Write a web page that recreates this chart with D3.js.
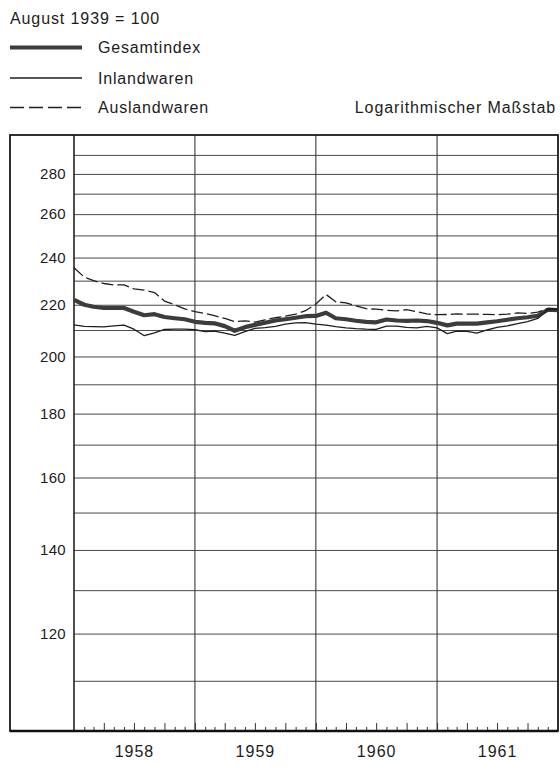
<!DOCTYPE html>
<html><head><meta charset="utf-8">
<script src="https://cdn.jsdelivr.net/npm/d3@7"></script>
<style>
body{margin:0;background:#fff}
text{font-family:"Liberation Sans",Arial,Helvetica,sans-serif;fill:#1c1c1c}
</style>
</head><body><svg id="c" width="560" height="767"></svg>
<script>
// ---- data (monthly, Jan 1958 .. Jan 1962), index August 1939 = 100
const startMonth = "1958-01";
const endMonth = "1962-01";
const gesamt = [222,220,219.2,218.7,218.7,218.7,217.2,215.8,216.2,215.1,214.6,214.2,
  213.2,212.8,212.6,211.5,209.7,211.1,212,212.8,213.7,214.2,214.8,215.4,
  215.5,216.8,214.6,214.2,213.6,213.2,213,214.1,213.7,213.6,213.7,213.5,
  212.8,211.8,212.5,212.5,212.5,213,213.4,214,214.6,215,215.6,218,217.8];
const inland = [212,211.4,211.3,211.2,211.6,211.9,210.3,207.8,208.9,210.2,210.3,210.3,
  210.1,209.4,209.6,208.8,207.9,209.4,210.6,210.9,211.4,212.3,212.8,212.9,
  212.3,211.9,211.3,210.8,210.5,210.3,210.2,211.5,211.5,211,210.8,211.4,
  210.8,208.6,209.6,209.5,208.8,210,211,211.6,212.5,213.3,214.5,218,218];
const ausland = [235.5,231.5,230,228.8,228.2,228.2,226.5,226,225,221.5,220,218.3,
  217.2,216.5,215.6,214.5,213.3,213.6,213.1,214,214.8,215.4,216.2,217.6,
  220.3,224.2,221.2,220.8,219.5,218.4,218.2,217.8,217.5,218,217.2,216.3,
  216,216.1,216.3,216.2,216.2,216.1,216,216.2,216.7,216.5,217,218.4,218.2];
const yearLabels = ["1958","1959","1960","1961"];
const yTickLabels = [120,140,160,180,200,220,240,260,280];
const yGrid = [110,120,130,140,150,160,170,180,190,200,210,220,230,240,250,260,270,280,290];
const yDomain = [100,300];
const legendItems = ["Gesamtindex","Inlandwaren","Auslandwaren"];
const baseNote = "August 1939 = 100";
const scaleNote = "Logarithmischer Maßstab";

// ---- layout
const svg = d3.select("#c");
const frame = {left:10, right:558, top:135, bottom:731};
const plotLeft = 74;
const parseM = d3.timeParse("%Y-%m");
const t0 = parseM(startMonth), t1 = parseM(endMonth);
const dates = d3.timeMonth.range(t0, d3.timeMonth.offset(t1,1));

const x = d3.scaleTime().domain([t0,t1]).range([plotLeft, frame.right]);
const y = d3.scaleLog().domain(yDomain).range([732.5,136.5]);

// grid horizontal
const gGrid = svg.append("g").attr("transform",`translate(${plotLeft},0)`)
  .call(d3.axisLeft(y).tickValues(yGrid).tickSize(-(frame.right-plotLeft)).tickFormat(""));
gGrid.select(".domain").remove();
gGrid.selectAll(".tick line").attr("stroke","#4a4a4a").attr("stroke-width",1);

// vertical year lines
const yearStarts = yearLabels.slice(1).map(s=>parseM(s+"-01"));
svg.append("g").selectAll("line").data(yearStarts).join("line")
  .attr("x1",d=>x(d)).attr("x2",d=>x(d)).attr("y1",frame.top).attr("y2",frame.bottom)
  .attr("stroke","#3a3a3a").attr("stroke-width",1.1);

// month ticks on the bottom
const gM = svg.append("g").attr("transform",`translate(0,${frame.bottom})`)
  .call(d3.axisBottom(x).tickValues(dates.slice(1,-1)).tickSize(-4).tickFormat(""));
gM.select(".domain").remove();
gM.selectAll(".tick line").attr("stroke","#333").attr("stroke-width",1)
  .attr("y2",d=>(d.getMonth()%3===0? -8 : -4));

// y labels
const gY = svg.append("g").attr("transform",`translate(${plotLeft},0)`)
  .call(d3.axisLeft(y).tickValues(yTickLabels).tickSize(0).tickPadding(8).tickFormat(d3.format("d")));
gY.select(".domain").remove();
gY.selectAll("text").attr("font-size",15).attr("letter-spacing",0.3).style("font-family","'Liberation Sans',Arial,sans-serif").attr("fill","#1c1c1c");

// year labels
const gX = svg.append("g").attr("transform",`translate(0,${frame.bottom})`)
  .call(d3.axisBottom(x).tickValues(yearLabels.map(s=>parseM(s+"-07"))).tickSize(0).tickPadding(15).tickFormat(d3.timeFormat("%Y")));
gX.select(".domain").remove();
gX.selectAll("text").attr("font-size",16).attr("letter-spacing",1).style("font-family","'Liberation Sans',Arial,sans-serif").attr("fill","#1c1c1c");

// frame
svg.append("line").attr("x1",plotLeft).attr("x2",plotLeft).attr("y1",frame.top).attr("y2",frame.bottom)
  .attr("stroke","#222").attr("stroke-width",1.6);
svg.append("rect").attr("x",frame.left).attr("y",frame.top)
  .attr("width",frame.right-frame.left).attr("height",frame.bottom-frame.top)
  .attr("fill","none").attr("stroke","#1a1a1a").attr("stroke-width",1.8);
svg.append("line").attr("x1",frame.left).attr("x2",frame.right).attr("y1",frame.bottom).attr("y2",frame.bottom)
  .attr("stroke","#111").attr("stroke-width",2.6);

// lines
const line = d3.line().x((d,i)=>x(dates[i])).y(d=>y(d));
const styles = [
  {data:gesamt, w:4.2, dash:null, col:"#3c3c3c"},
  {data:inland, w:1.3, dash:null, col:"#1e1e1e"},
  {data:ausland, w:1.3, dash:"12,4", col:"#1e1e1e"}
];
styles.forEach(s=>{
  svg.append("path").datum(s.data).attr("d",line).attr("fill","none")
    .attr("stroke",s.col).attr("stroke-width",s.w).attr("stroke-dasharray",s.dash)
    .attr("stroke-linejoin","round");
});

// legend
svg.append("text").attr("x",10).attr("y",23.5).attr("font-size",16).attr("letter-spacing",0.9).text(baseNote);
const legY = [47.5,78,107.5];
styles.forEach((s,i)=>{
  svg.append("line").attr("x1",10).attr("x2",82).attr("y1",legY[i]).attr("y2",legY[i])
    .attr("stroke",s.col).attr("stroke-width",s.w).attr("stroke-dasharray",s.dash?"14,5":null);
  svg.append("text").attr("x",98).attr("y",legY[i]+5.5).attr("font-size",16).attr("letter-spacing",0.8).text(legendItems[i]);
});
svg.append("text").attr("x",556).attr("y",113).attr("text-anchor","end").attr("font-size",16)
  .attr("letter-spacing",0.9).text(scaleNote);
</script>
</body></html>
